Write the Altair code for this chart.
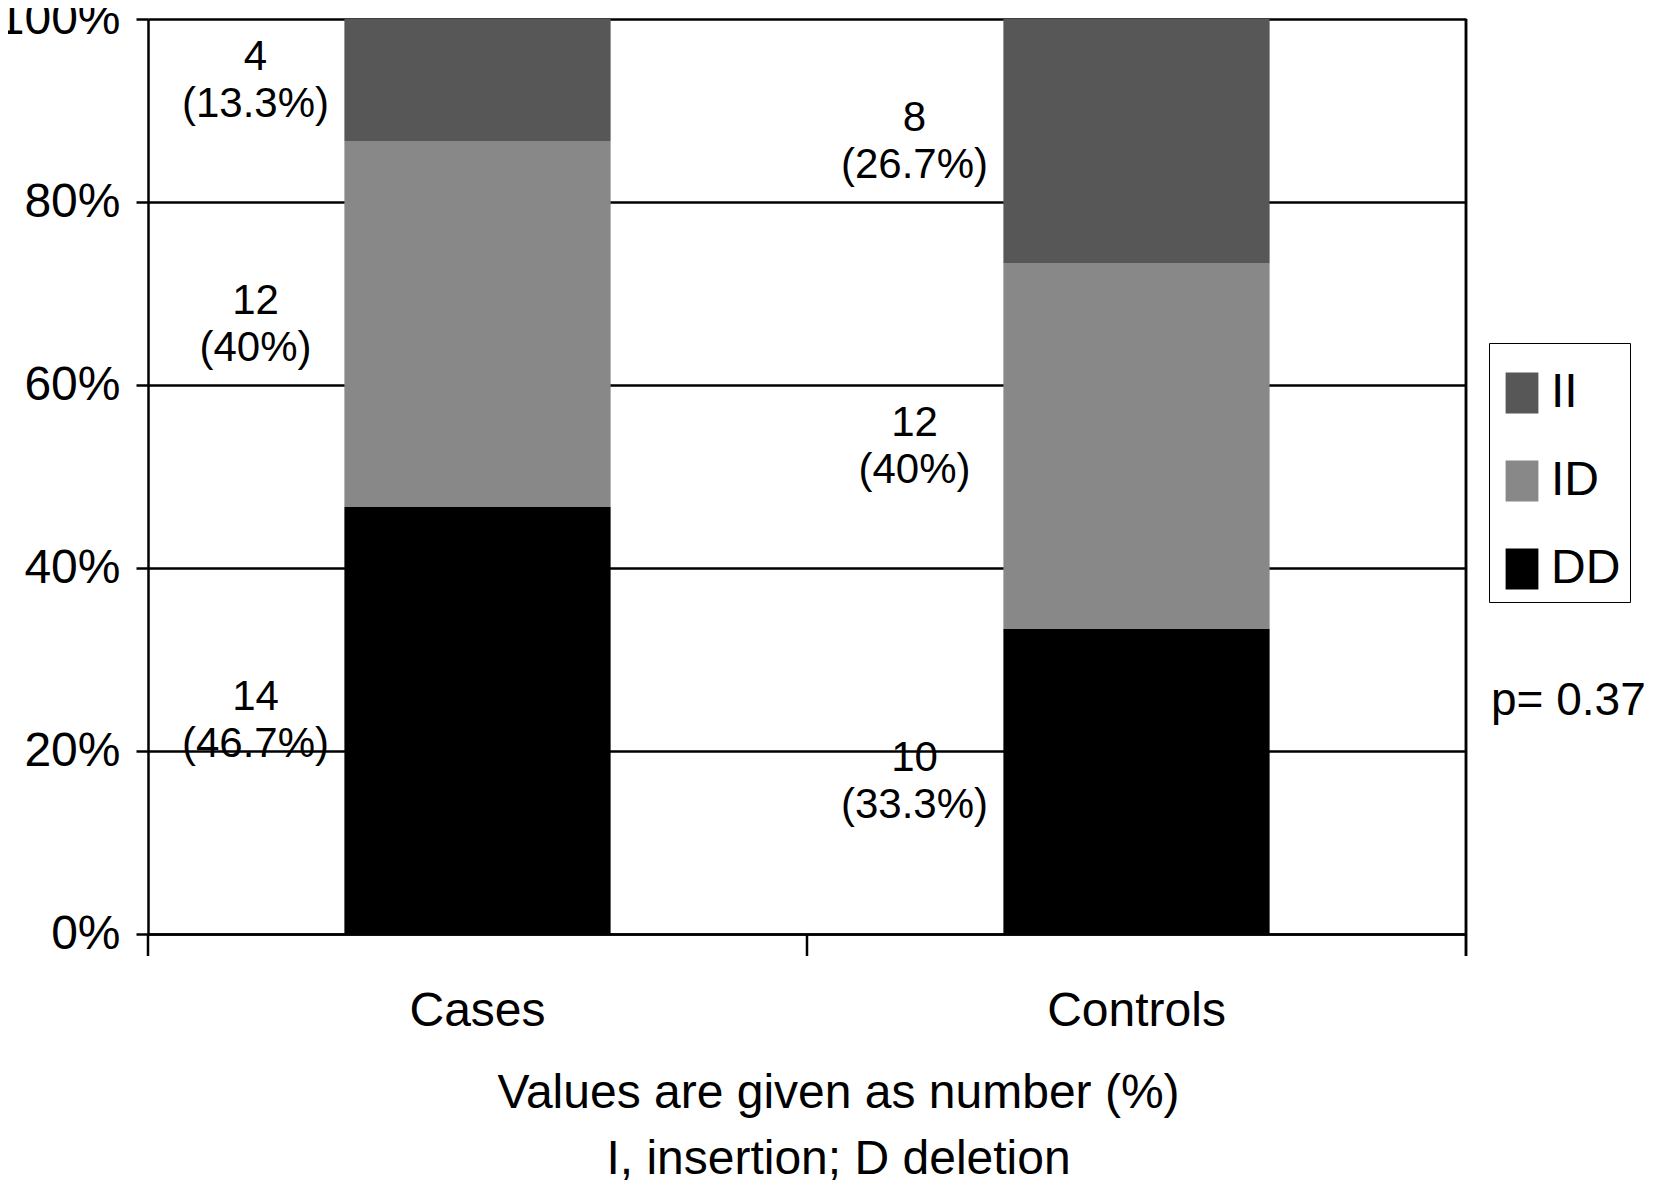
import altair as alt
import pandas as pd

groups = ["Cases", "Controls"]
genotypes = ["DD", "ID", "II"]
cases_n = [14, 12, 4]
controls_n = [10, 12, 8]
totals = [30, 30]
legend_order = ["II", "ID", "DD"]
colors = ["#575757", "#888888", "#000000"]
footer = ["Values are given as number (%)", "I, insertion; D deletion"]
p_text = "p= 0.37"

rows = []
for g, counts, tot in zip(groups, [cases_n, controls_n], totals):
    for i, (gt, n) in enumerate(zip(genotypes, counts)):
        pct = n / tot
        rows.append({"group": g, "genotype": gt, "n": n, "pct": pct, "ord": i,
                     "label": f"{n}\n({round(pct * 100, 1):g}%)"})
df = pd.DataFrame(rows)
ticks_df = pd.DataFrame({"group": groups})

FS = 48
LFS = 42
LH = 47
W, H = 1318, 915
FONT = "Liberation Sans"

xscale = alt.Scale(domain=groups, paddingInner=0, paddingOuter=0)

base = alt.Chart(df)

bars = base.mark_bar(width={"band": 0.404}).encode(
    x=alt.X("group:N", scale=xscale, sort=groups,
            axis=alt.Axis(title=footer, labelAngle=0, ticks=False, labelFontSize=FS,
                          labelColor="black", labelPadding=53, domainColor="black",
                          domainWidth=2.5, titleFontSize=FS, titleFontWeight="normal",
                          titleColor="black", titlePadding=34, titleLineHeight=66,
                          titleX=690, titleAlign="center", labelFont=FONT,
                          titleFont=FONT)),
    y=alt.Y("pct:Q", stack="zero", scale=alt.Scale(domain=[0, 1]),
            axis=alt.Axis(title=None, format="%", values=[0, 0.2, 0.4, 0.6, 0.8, 1.0],
                          grid=True, gridColor="black", gridWidth=2.5, gridOpacity=1,
                          tickColor="black", tickWidth=2.5, tickSize=12,
                          labelFontSize=FS, labelColor="black", labelPadding=16,
                          domainColor="black", domainWidth=2.5,
                          labelFont=FONT)),
    color=alt.Color("genotype:N", scale=alt.Scale(domain=legend_order, range=colors),
                    legend=alt.Legend(title=" ", titleFontSize=6, titlePadding=11,
                                      orient="none", legendX=1341, legendY=324,
                                      symbolType="M-0.8,-1H0.8V1H-0.8Z", symbolSize=1681,
                                      symbolStrokeWidth=0, labelFontSize=FS,
                                      labelColor="black", labelFont=FONT,
                                      strokeColor="black", padding=9, rowPadding=40,
                                      labelOffset=5, symbolOpacity=1)),
    order=alt.Order("ord:Q"),
)

labels = base.transform_stack(
    stack="pct", groupby=["group"], sort=[alt.SortField("ord")], as_=["y0", "y1"]
).transform_calculate(mid="(datum.y0 + datum.y1) / 2").mark_text(
    lineBreak="\n", fontSize=LFS, lineHeight=LH, font=FONT,
    color="black", dx=-222, dy=-LH / 2, baseline="middle", align="center"
).encode(
    x=alt.X("group:N", scale=xscale, sort=groups),
    y=alt.Y("mid:Q"),
    text="label:N",
)

tick_rules = alt.Chart(ticks_df).mark_rule(color="black", strokeWidth=2.5).encode(
    x=alt.X("group:N", scale=xscale, sort=groups, bandPosition=0),
    y=alt.value(H), y2=alt.value(H + 22),
)
end_rule = alt.Chart(ticks_df).mark_rule(color="black", strokeWidth=2.5).encode(
    x=alt.value(W), y=alt.value(0), y2=alt.value(H + 22),
)

ptext = alt.Chart(pd.DataFrame({"t": [p_text]})).mark_text(
    fontSize=46, font=FONT, color="black", align="left", baseline="middle"
).encode(x=alt.value(1343), y=alt.value(682), text="t:N")

chart = alt.layer(bars, labels, tick_rules, end_rule, ptext).properties(
    width=W, height=H,
    autosize=alt.AutoSizeParams(type="none"),
    padding={"left": 140, "top": 11, "right": 180, "bottom": 250},
).configure_view(stroke=None).configure_legend(strokeWidth=2.5).configure(background="white")

chart.save("out.html", embed_options={"renderer": "svg", "actions": False})
